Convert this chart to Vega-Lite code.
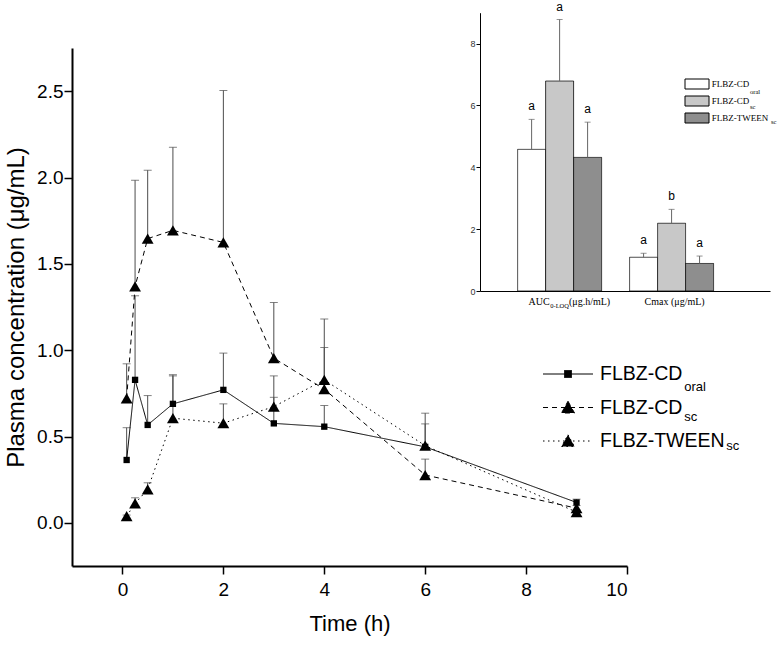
{
  "$schema": "https://vega.github.io/schema/vega-lite/v6.json",
  "width": 698,
  "height": 556,
  "autosize": "none",
  "padding": {"left": 72, "top": 10, "right": 14, "bottom": 80},
  "background": "white",
  "config": {
    "view": {"stroke": null},
    "axis": {"grid": false, "labelColor": "black", "tickColor": "black", "domainColor": "black", "titleColor": "black", "titleFontWeight": "normal"},
    "legend": {"padding": 0, "titlePadding": 0}
  },
  "datasets": {
    "pk": [
      {"series": "FLBZ-CDoral", "time": 0.083, "conc": 0.364, "upper": 0.551},
      {"series": "FLBZ-CDoral", "time": 0.25, "conc": 0.828, "upper": 1.315},
      {"series": "FLBZ-CDoral", "time": 0.5, "conc": 0.567, "upper": 0.737},
      {"series": "FLBZ-CDoral", "time": 1, "conc": 0.689, "upper": 0.858},
      {"series": "FLBZ-CDoral", "time": 2, "conc": 0.77, "upper": 0.983},
      {"series": "FLBZ-CDoral", "time": 3, "conc": 0.576, "upper": 0.727},
      {"series": "FLBZ-CDoral", "time": 4, "conc": 0.557, "upper": 0.679},
      {"series": "FLBZ-CDoral", "time": 6, "conc": 0.44, "upper": 0.573},
      {"series": "FLBZ-CDoral", "time": 9, "conc": 0.118, "upper": 0.137},
      {"series": "FLBZ-CDsc", "time": 0.083, "conc": 0.721, "upper": 0.921},
      {"series": "FLBZ-CDsc", "time": 0.25, "conc": 1.369, "upper": 1.984},
      {"series": "FLBZ-CDsc", "time": 0.5, "conc": 1.646, "upper": 2.042},
      {"series": "FLBZ-CDsc", "time": 1, "conc": 1.694, "upper": 2.175},
      {"series": "FLBZ-CDsc", "time": 2, "conc": 1.624, "upper": 2.504},
      {"series": "FLBZ-CDsc", "time": 3, "conc": 0.954, "upper": 1.276},
      {"series": "FLBZ-CDsc", "time": 4, "conc": 0.774, "upper": 1.015},
      {"series": "FLBZ-CDsc", "time": 6, "conc": 0.277, "upper": 0.369},
      {"series": "FLBZ-CDsc", "time": 9, "conc": 0.085, "upper": 0.1},
      {"series": "FLBZ-TWEENsc", "time": 0.083, "conc": 0.039, "upper": 0.045},
      {"series": "FLBZ-TWEENsc", "time": 0.25, "conc": 0.112, "upper": 0.145},
      {"series": "FLBZ-TWEENsc", "time": 0.5, "conc": 0.194, "upper": 0.232},
      {"series": "FLBZ-TWEENsc", "time": 1, "conc": 0.606, "upper": 0.851},
      {"series": "FLBZ-TWEENsc", "time": 2, "conc": 0.577, "upper": 0.689},
      {"series": "FLBZ-TWEENsc", "time": 3, "conc": 0.673, "upper": 0.851},
      {"series": "FLBZ-TWEENsc", "time": 4, "conc": 0.828, "upper": 1.18},
      {"series": "FLBZ-TWEENsc", "time": 6, "conc": 0.447, "upper": 0.635},
      {"series": "FLBZ-TWEENsc", "time": 9, "conc": 0.062, "upper": 0.075}
    ],
    "inset": [
      {"metric": "AUC", "group": "FLBZ-CDoral", "mean": 4.58, "upper": 5.55, "sig": "a"},
      {"metric": "AUC", "group": "FLBZ-CDsc", "mean": 6.79, "upper": 8.78, "sig": "a"},
      {"metric": "AUC", "group": "FLBZ-TWEENsc", "mean": 4.32, "upper": 5.46, "sig": "a"},
      {"metric": "Cmax", "group": "FLBZ-CDoral", "mean": 1.09, "upper": 1.22, "sig": "a"},
      {"metric": "Cmax", "group": "FLBZ-CDsc", "mean": 2.19, "upper": 2.64, "sig": "b"},
      {"metric": "Cmax", "group": "FLBZ-TWEENsc", "mean": 0.89, "upper": 1.13, "sig": "a"}
    ]
  },
  "layer": [
    {
      "data": {"name": "pk"},
      "encoding": {
        "x": {"field": "time", "type": "quantitative",
          "scale": {"domain": [-1, 10], "range": [0, 555], "nice": false, "zero": false},
          "axis": {"orient": "bottom", "values": [0, 2, 4, 6, 8, 10], "format": "d", "tickSize": 8, "tickWidth": 1.5, "domainWidth": 2, "labelFont": "Liberation Sans", "labelFontSize": 19, "labelPadding": 6, "title": "Time (h)", "titleFont": "Liberation Sans", "titleFontSize": 22, "titlePadding": 14}},
        "y": {"field": "conc", "type": "quantitative", "title": "Plasma concentration (μg/mL)",
          "scale": {"domain": [-0.25, 2.75], "range": [556, 38], "nice": false, "zero": false},
          "axis": {"orient": "left", "values": [0, 0.5, 1, 1.5, 2, 2.5], "format": ".1f", "tickSize": 8, "tickWidth": 1.5, "domainWidth": 2, "labelFont": "Liberation Sans", "labelFontSize": 19, "labelPadding": 1, "titleFont": "Liberation Sans", "titleFontSize": 24, "titlePadding": 8}}
      },
      "layer": [
        {"mark": {"type": "rule", "color": "#4d4d4d", "strokeWidth": 1}, "encoding": {"y2": {"field": "upper"}}},
        {"mark": {"type": "tick", "orient": "horizontal", "color": "#4d4d4d", "thickness": 1, "size": 8},
          "encoding": {"y": {"field": "upper", "type": "quantitative", "title": "Plasma concentration (μg/mL)", "scale": {"domain": [-0.25, 2.75], "range": [556, 38], "nice": false, "zero": false}}}},
        {"mark": {"type": "line", "strokeWidth": 1},
          "encoding": {
            "strokeDash": {"field": "series", "type": "nominal", "scale": {"range": [[1, 0], [5, 4], [1.5, 3.5]]},
              "legend": {"title": null, "orient": "none", "legendX": 486.25, "legendY": 354.25, "symbolSize": 100, "symbolStrokeWidth": 1, "symbolStrokeColor": "black", "symbolFillColor": "black", "labelFont": "Liberation Sans", "labelFontSize": 19.5, "labelColor": "black", "labelOffset": 22.25, "rowPadding": -3.5, "labelLimit": 300,
                "labelExpr": "datum.label === 'FLBZ-TWEENsc' ? 'FLBZ-TWEEN' : 'FLBZ-CD'",
                "encode": {"symbols": {"update": {"shape": {"signal": "datum.value === 'FLBZ-CDoral' ? 'M-5,0H5M-0.7,-0.7H0.7V0.7H-0.7ZM0,-3.2M0,3.2' : 'M-5,0H5M0,-1.25L1.3,1.1L-1.3,1.1ZM0,-3.2M0,3.2'"}, "fill": {"value": "black"}, "stroke": {"value": "black"}}}}}},
            "color": {"field": "series", "type": "nominal", "scale": {"domain": ["FLBZ-CDoral", "FLBZ-CDsc", "FLBZ-TWEENsc"], "range": ["black", "black", "black"]},
              "legend": {"title": null, "orient": "none", "legendX": 486.25, "legendY": 374.5, "symbolSize": 100, "symbolOpacity": 0, "symbolStrokeWidth": 1, "symbolType": "M0,-3.2M0,3.2", "labelFont": "Liberation Sans", "labelFontSize": 13, "labelColor": "black", "labelBaseline": "alphabetic", "labelOffset": 113, "rowPadding": -3.5,
                "labelExpr": "datum.label === 'FLBZ-CDoral' ? 'oral' : 'sc'",
                "encode": {"labels": {"update": {"dx": {"signal": "datum.value === 'FLBZ-TWEENsc' ? 42 : 0"}}}}}}
          }},
        {"transform": [{"filter": "datum.series === 'FLBZ-CDoral'"}], "mark": {"type": "point", "shape": "square", "size": 40, "filled": true, "opacity": 1, "color": "black"}},
        {"transform": [{"filter": "datum.series !== 'FLBZ-CDoral'"}], "mark": {"type": "point", "shape": "triangle-up", "size": 140, "filled": true, "opacity": 1, "color": "black"}}
      ]
    },
    {
      "data": {"name": "inset"},
      "encoding": {
        "x": {"field": "metric", "type": "nominal",
          "scale": {"type": "band", "range": [408, 698], "paddingInner": 0.25, "paddingOuter": 0.42, "align": 0.4},
          "axis": {"orient": "bottom", "offset": -275, "ticks": false, "domainWidth": 1, "labelAngle": 0, "labelFont": "Liberation Serif", "labelFontSize": 10, "labelPadding": 5, "title": null,
            "labelOffset": {"condition": {"test": "datum.value === 'AUC'", "value": -20.5}, "value": 3},
            "labelExpr": "datum.value === 'AUC' ? 'AUC' : 'Cmax (μg/mL)'"}},
        "xOffset": {"field": "group", "type": "nominal", "scale": {"paddingInner": 0, "paddingOuter": 0}},
        "y": {"field": "mean", "type": "quantitative", "title": null,
          "scale": {"domain": [0, 9], "range": [281, 2.7], "nice": false, "zero": false},
          "axis": {"orient": "left", "offset": -408, "values": [0, 2, 4, 6, 8], "tickSize": 4, "domainWidth": 1, "labelFont": "Liberation Sans", "labelFontSize": 9, "labelColor": "#333333", "labelPadding": 1, "title": null}}
      },
      "layer": [
        {"mark": {"type": "bar", "strokeWidth": 0.8},
          "encoding": {
            "fill": {"field": "group", "type": "nominal", "scale": {"range": ["white", "#c8c8c8", "#8e8e8e"]},
              "legend": {"title": null, "orient": "none", "legendX": 619.5, "legendY": 68.5, "symbolSize": 100, "symbolType": "M-2.4,-1H2.4V1H-2.4ZM0,-1.83M0,1.83", "symbolStrokeColor": "black", "symbolStrokeWidth": 1, "labelFont": "Liberation Serif", "labelFontSize": 9, "labelColor": "black", "labelOffset": 9.2, "rowPadding": -8.5,
                "labelExpr": "datum.label === 'FLBZ-TWEENsc' ? 'FLBZ-TWEEN' : 'FLBZ-CD'"}},
            "stroke": {"field": "group", "type": "nominal", "scale": {"domain": ["FLBZ-CDoral", "FLBZ-CDsc", "FLBZ-TWEENsc"], "range": ["black", "black", "black"]},
              "legend": {"title": null, "orient": "none", "legendX": 619.5, "legendY": 78.5, "symbolSize": 100, "symbolOpacity": 0, "symbolStrokeWidth": 1, "symbolType": "M0,-1.83M0,1.83", "labelFont": "Liberation Serif", "labelFontSize": 6.5, "labelColor": "black", "labelBaseline": "alphabetic", "labelOffset": 47.5, "rowPadding": -8.5,
                "labelExpr": "datum.label === 'FLBZ-CDoral' ? 'oral' : (datum.label === 'FLBZ-CDsc' ? 'sc' : '')"}},
            "strokeDash": {"field": "group", "type": "nominal", "scale": {"domain": ["FLBZ-CDoral", "FLBZ-CDsc", "FLBZ-TWEENsc", "~"], "range": [[1, 0], [1, 0], [1, 0], [1, 0]]},
              "legend": {"title": null, "orient": "none", "values": ["FLBZ-CDoral", "FLBZ-CDsc", "FLBZ-TWEENsc"], "legendX": 619.5, "legendY": 78.5, "symbolSize": 100, "symbolOpacity": 0, "symbolStrokeWidth": 1, "symbolType": "M0,-1.83M0,1.83", "labelFont": "Liberation Serif", "labelFontSize": 6.5, "labelColor": "black", "labelBaseline": "alphabetic", "labelOffset": 68.5, "rowPadding": -8.5,
                "labelExpr": "datum.label === 'FLBZ-TWEENsc' ? 'sc' : ''"}}
          }},
        {"mark": {"type": "rule", "color": "#666666", "strokeWidth": 1}, "encoding": {"y2": {"field": "upper"}}},
        {"mark": {"type": "tick", "orient": "horizontal", "color": "#666666", "thickness": 1, "size": 6},
          "encoding": {"y": {"field": "upper", "type": "quantitative", "title": null, "scale": {"domain": [0, 9], "range": [281, 2.7], "nice": false, "zero": false}}}},
        {"mark": {"type": "text", "dy": -9, "fontSize": 12, "font": "Liberation Sans", "baseline": "alphabetic", "color": "black"},
          "encoding": {"y": {"field": "upper", "type": "quantitative", "title": null, "scale": {"domain": [0, 9], "range": [281, 2.7], "nice": false, "zero": false}}, "text": {"field": "sig"}}}
      ]
    },
    {
      "data": {"name": "inset"},
      "mark": {"type": "point", "opacity": 0},
      "encoding": {
        "x": {"field": "metric", "type": "nominal",
          "scale": {"type": "band", "range": [408, 698], "paddingInner": 0.25, "paddingOuter": 0.42, "align": 0.4},
          "axis": {"orient": "bottom", "offset": -275, "domain": false, "ticks": false, "labelAngle": 0, "labelFont": "Liberation Serif", "labelFontSize": 6.5, "labelPadding": 11, "labelOffset": 0, "title": null,
            "labelExpr": "datum.value === 'AUC' ? '0-LOQ' : ''"}}
      }
    },
    {
      "data": {"name": "inset"},
      "mark": {"type": "point", "opacity": 0},
      "encoding": {
        "x": {"field": "metric", "type": "nominal",
          "scale": {"type": "band", "range": [408, 698], "paddingInner": 0.25, "paddingOuter": 0.42, "align": 0.4},
          "axis": {"orient": "bottom", "offset": -275, "domain": false, "ticks": false, "labelAngle": 0, "labelFont": "Liberation Serif", "labelFontSize": 10, "labelPadding": 5, "labelOffset": 30, "title": null,
            "labelExpr": "datum.value === 'AUC' ? '(μg.h/mL)' : ''"}}
      }
    }
  ],
  "resolve": {
    "scale": {"x": "independent", "y": "independent", "color": "independent", "stroke": "independent", "strokeDash": "independent"},
    "axis": {"x": "independent", "y": "independent"}
  }
}
